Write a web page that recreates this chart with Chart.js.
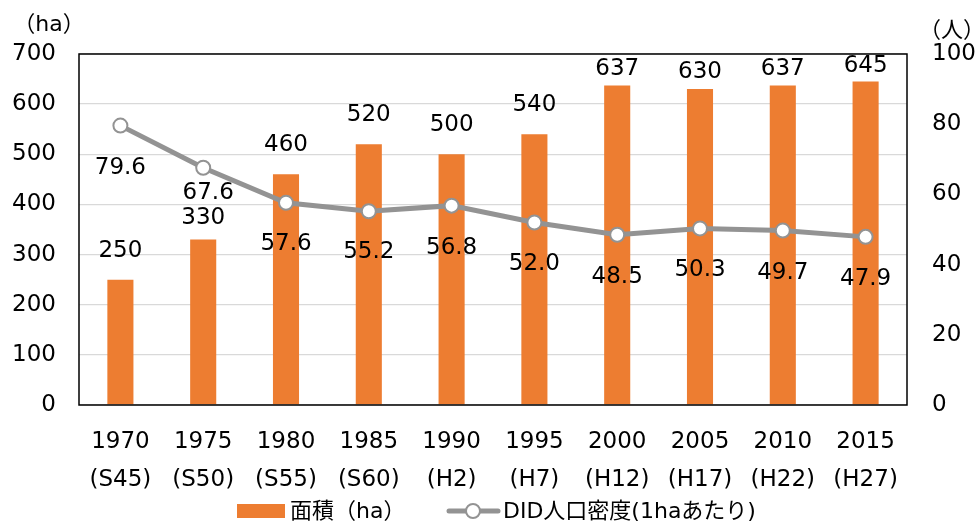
<!DOCTYPE html>
<html><head><meta charset="utf-8">
<script src="https://cdn.jsdelivr.net/npm/chart.js@4/dist/chart.umd.min.js"></script>
<style>html,body{margin:0;padding:0;background:#fff;}#wrap{width:978px;height:524px;}</style>
</head><body><div id="wrap"><canvas id="c" width="978" height="524"></canvas></div>
<script>
const years = ['1970','1975','1980','1985','1990','1995','2000','2005','2010','2015'];
const eras = ['(S45)','(S50)','(S55)','(S60)','(H2)','(H7)','(H12)','(H17)','(H22)','(H27)'];
const areaHa = [250,330,460,520,500,540,637,630,637,645];
const density = [79.6,67.6,57.6,55.2,56.8,52.0,48.5,50.3,49.7,47.9];
const densityLabels = ['79.6','67.6','57.6','55.2','56.8','52.0','48.5','50.3','49.7','47.9'];
const leftAxisTitle = '（ha）';
const rightAxisTitle = '（人）';
const areaName = '面積（ha）';
const densityName = 'DID人口密度(1haあたり)';

const FONT = '"DejaVu Sans", "Noto Sans CJK JP", sans-serif';
const FS = 23;
const ORANGE = '#ED7D31';
const GRAY = '#939393';

// label placement (style only)
const barLabelOffset = [29,21,29,29,29,29,17,17,17,16];
const lineLabelOffset = [42,25,41,41,42,42,42,42,42,42];
const lineLabelDx = [0,5,0,0,0,0,0,0,0,0];

const labelPlugin = {
  id: 'labels',
  afterDatasetsDraw(chart) {
    const ctx = chart.ctx;
    const a = chart.chartArea;
    ctx.save();
    ctx.strokeStyle = '#000';
    ctx.lineWidth = 1.5;
    ctx.strokeRect(a.left, a.top, a.right - a.left, a.bottom - a.top);
    ctx.fillStyle = '#000';
    ctx.font = FS + 'px ' + FONT;
    ctx.textAlign = 'center';
    ctx.textBaseline = 'middle';
    const mb = chart.getDatasetMeta(1);
    mb.data.forEach((el, i) => {
      ctx.fillText(String(areaHa[i]), el.x, el.y - barLabelOffset[i]);
    });
    const ml = chart.getDatasetMeta(0);
    ml.data.forEach((el, i) => {
      ctx.fillText(densityLabels[i], el.x + lineLabelDx[i], el.y + lineLabelOffset[i]);
    });
    ctx.font = '22px ' + FONT;
    ctx.fillText(leftAxisTitle, 49, 25);
    ctx.fillText(rightAxisTitle, 952, 31);
    // legend
    ctx.fillStyle = ORANGE;
    ctx.fillRect(237, 504, 48, 14);
    ctx.fillStyle = '#000';
    ctx.textAlign = 'left';
    ctx.fillText(areaName, 290, 512);
    ctx.strokeStyle = GRAY;
    ctx.lineWidth = 5;
    ctx.lineCap = 'round';
    ctx.beginPath(); ctx.moveTo(449, 511); ctx.lineTo(498, 511); ctx.stroke();
    ctx.beginPath(); ctx.arc(473, 511, 7, 0, Math.PI * 2);
    ctx.fillStyle = '#fff'; ctx.fill();
    ctx.lineWidth = 2; ctx.stroke();
    ctx.fillStyle = '#000';
    ctx.fillText(densityName, 503, 512);
    ctx.restore();
  }
};

new Chart(document.getElementById('c'), {
  data: {
    labels: years.map((y, i) => [y, eras[i]]),
    datasets: [
      {
        type: 'line', label: densityName, data: density, yAxisID: 'y2', order: 0,
        borderColor: GRAY, borderWidth: 5, pointRadius: 7, pointBorderWidth: 2,
        pointBackgroundColor: '#fff', pointBorderColor: GRAY, tension: 0
      },
      {
        type: 'bar', label: areaName, data: areaHa, yAxisID: 'y', order: 1,
        backgroundColor: ORANGE, borderWidth: 0,
        barPercentage: 0.315, categoryPercentage: 1
      }
    ]
  },
  options: {
    responsive: false, animation: false,
    layout: { padding: { top: 54, left: 0, right: 0, bottom: 0 } },
    plugins: { legend: { display: false }, tooltip: { enabled: false } },
    scales: {
      x: {
        grid: { display: false }, border: { display: false },
        ticks: { color: '#000', font: { family: FONT, size: FS, lineHeight: 38 / FS }, padding: 10, maxRotation: 0, autoSkip: false },
        afterFit(s) { s.height = 119; }
      },
      y: {
        position: 'left', min: 0, max: 700,
        grid: { color: '#d9d9d9', lineWidth: 1.3, drawTicks: false }, border: { display: false },
        ticks: { stepSize: 100, color: '#000', font: { family: FONT, size: FS }, padding: 23 },
        afterFit(s) { s.width = 79; }
      },
      y2: {
        position: 'right', min: 0, max: 100,
        grid: { display: false, drawTicks: false }, border: { display: false },
        ticks: { stepSize: 20, color: '#000', font: { family: FONT, size: FS }, padding: 25 },
        afterFit(s) { s.width = 71; }
      }
    }
  },
  plugins: [labelPlugin]
});
</script>
</body></html>
